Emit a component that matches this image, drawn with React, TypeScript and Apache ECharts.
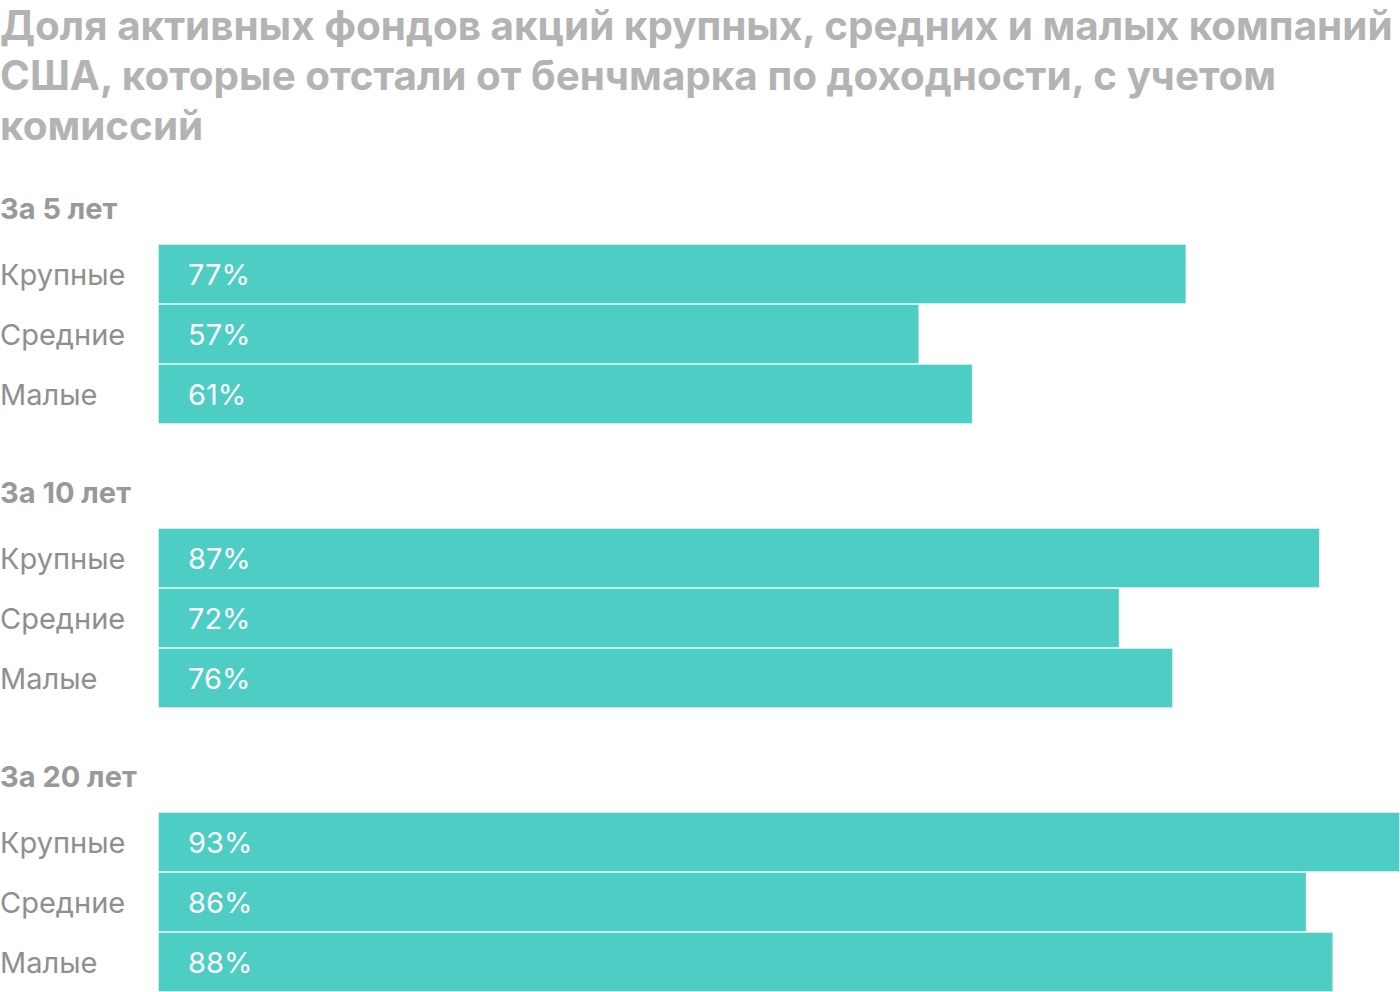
import React, { useEffect, useRef } from "react";
import * as echarts from "echarts";

const titleLines = [
  "Доля активных фондов акций крупных, средних и малых компаний",
  "США, которые отстали от бенчмарка по доходности, с учетом",
  "комиссий",
];
const groups = ["За 5 лет", "За 10 лет", "За 20 лет"];
const categories = ["Крупные", "Средние", "Малые"];
const values5 = [77, 57, 61];
const values10 = [87, 72, 76];
const values20 = [93, 86, 88];
const seriesValues = [values5, values10, values20];

const FONT = "Inter, 'Noto Sans', sans-serif";

export default function App() {
  const ref = useRef<HTMLDivElement>(null);
  useEffect(() => {
    if (!ref.current) return;
    const chart = echarts.init(ref.current, undefined, { renderer: "svg" });
    const groupTop = 244;
    const groupStep = 284;
    const grids = groups.map((_, i) => ({
      left: 158,
      right: 0,
      top: groupTop + i * groupStep,
      height: 180,
      containLabel: false,
      outerBoundsMode: "none",
    }));
    const xAxes = groups.map((_, i) => ({
      type: "value",
      gridIndex: i,
      min: 0,
      max: 93,
      show: false,
    }));
    const yAxes = groups.map((_, i) => ({
      type: "category",
      gridIndex: i,
      data: categories,
      inverse: true,
      axisLine: { show: false },
      axisTick: { show: false },
      splitLine: { show: false },
      axisLabel: {
        align: "left",
        margin: 158,
        color: "#8f8f8f",
        fontSize: 29,
        fontFamily: FONT,
      },
    }));
    const series = seriesValues.map((vals, i) => ({
      type: "bar",
      xAxisIndex: i,
      yAxisIndex: i,
      data: vals,
      barWidth: 60,
      itemStyle: {
        color: "#4ecdc4",
        borderColor: "rgba(255,255,255,0.35)",
        borderWidth: 1,
      },
      label: {
        show: true,
        position: "insideLeft",
        distance: 30,
        color: "#ffffff",
        fontSize: 29,
        fontFamily: FONT,
        formatter: "{c}%",
      },
    }));
    const graphic: any[] = titleLines.map((t, i) => ({
      type: "text",
      left: 0,
      top: 5 + i * 50,
      style: {
        text: t,
        fill: "#b3b3b3",
        font: `bold 40.4px ${FONT}`,
      },
    }));
    groups.forEach((g, i) => {
      graphic.push({
        type: "text",
        left: 0,
        top: 210 + i * groupStep - 16,
        style: {
          text: g,
          fill: "#999999",
          font: `bold 29px ${FONT}`,
        },
      });
    });
    chart.setOption({
      animation: false,
      grid: grids,
      xAxis: xAxes,
      yAxis: yAxes,
      series,
      graphic,
    });
    return () => chart.dispose();
  }, []);
  return (
    <div
      ref={ref}
      style={{ position: "absolute", left: 0, top: 0, width: 1400, height: 992, background: "#fff" }}
    />
  );
}
